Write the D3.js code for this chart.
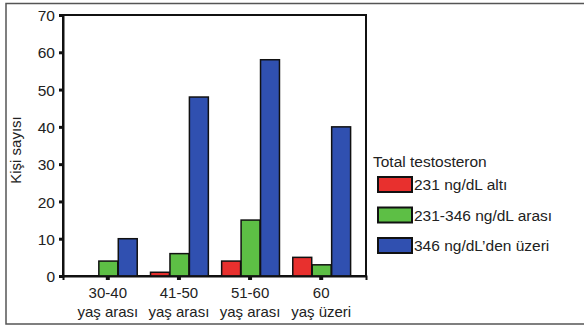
<!DOCTYPE html>
<html>
<head>
<meta charset="utf-8">
<script src="https://cdn.jsdelivr.net/npm/d3@7"></script>
<style>
  body { margin: 0; background: #fff; }
  svg text { font-family: "Liberation Sans", Arial, sans-serif; fill: #222; }
</style>
</head>
<body>
<div id="chart"></div>
<script>
const groups = ["30-40|yaş arası", "41-50|yaş arası", "51-60|yaş arası", "60|yaş üzeri"];
const seriesNames = ["231 ng/dL altı", "231-346 ng/dL arası", "346 ng/dL’den üzeri"];
const seriesColors = ["#e8302e", "#5dbf45", "#3050b0"];
const low = [0, 1, 4, 5];
const mid = [4, 6, 15, 3];
const high = [10, 48, 58, 40];
const yTicks = [0, 10, 20, 30, 40, 50, 60, 70];

const W = 584, H = 329;
const margin = {top: 15, right: 218, bottom: 53, left: 63},
      width = W - margin.left - margin.right,
      height = H - margin.top - margin.bottom;

const root = d3.select("#chart").append("svg")
  .attr("width", W).attr("height", H);

// outer frame
root.append("rect")
  .attr("x", 6).attr("y", 3.5).attr("width", W + 10).attr("height", 320.5)
  .attr("fill", "none").attr("stroke", "#555").attr("stroke-width", 1.5);

const svg = root.append("g").attr("transform", `translate(${margin.left},${margin.top})`);

const data = groups.map((g, i) => ({group: g, values: [low[i], mid[i], high[i]]}));

const x0 = d3.scaleBand().domain(groups).range([0, width])
  .paddingInner(0.18).paddingOuter(0.22);
const x1 = d3.scaleBand().domain(d3.range(3)).range([0, x0.bandwidth()]);
const y = d3.scaleLinear().domain([0, 70]).range([height, 0]);

// plot frame
svg.append("rect").attr("width", width).attr("height", height)
  .attr("fill", "none").attr("stroke", "#111").attr("stroke-width", 2);

// bars
svg.selectAll(".grp").data(data).enter().append("g")
  .attr("transform", d => `translate(${x0(d.group)},0)`)
  .selectAll("rect").data(d => d.values.map((v, k) => ({v, k})))
  .enter().filter(d => d.v > 0).append("rect")
  .attr("x", d => x1(d.k) + 0.75)
  .attr("width", x1.bandwidth() - 0.5)
  .attr("y", d => y(d.v))
  .attr("height", d => height - y(d.v))
  .attr("fill", d => seriesColors[d.k])
  .attr("stroke", "#111").attr("stroke-width", 1.5);

// y axis
const yAxis = svg.append("g")
  .call(d3.axisLeft(y).tickValues(yTicks).tickSize(4).tickPadding(4));
yAxis.select(".domain").attr("stroke", "#111").attr("stroke-width", 2);
yAxis.selectAll(".tick line").attr("stroke", "#111").attr("stroke-width", 3);
yAxis.selectAll("text").style("font-size", "15.5px").attr("dy", "0.36em");

// x axis
const xAxis = svg.append("g").attr("transform", `translate(0,${height})`)
  .call(d3.axisBottom(x0).tickSize(4).tickFormat(""));
xAxis.select(".domain").attr("stroke", "#111").attr("stroke-width", 2);
xAxis.selectAll(".tick line").attr("stroke", "#111").attr("stroke-width", 4);
xAxis.selectAll(".tick").each(function(d) {
  const parts = d.split("|");
  const t = d3.select(this).append("text").attr("text-anchor", "middle")
    .style("font-size", "15px");
  t.append("tspan").attr("x", 0).attr("y", 22).text(parts[0]);
  t.append("tspan").attr("x", 0).attr("y", 41).text(parts[1]);
});

// y label
root.append("text")
  .attr("transform", "translate(21,150) rotate(-90)")
  .attr("text-anchor", "middle")
  .style("font-size", "15px")
  .text("Kişi sayısı");

// legend
const legend = root.append("g").attr("transform", "translate(373,0)");
legend.append("text").attr("x", 0).attr("y", 167)
  .style("font-size", "15.5px").text("Total testosteron");
const items = legend.selectAll(".item").data(seriesNames).enter().append("g")
  .attr("transform", (d, i) => `translate(5,${177 + i * 30.5})`);
items.append("rect").attr("width", 34).attr("height", 15)
  .attr("fill", (d, i) => seriesColors[i])
  .attr("stroke", "#111").attr("stroke-width", 2);
items.append("text").attr("x", 36).attr("y", 13)
  .style("font-size", "15.5px").text(d => d);
</script>
</body>
</html>
